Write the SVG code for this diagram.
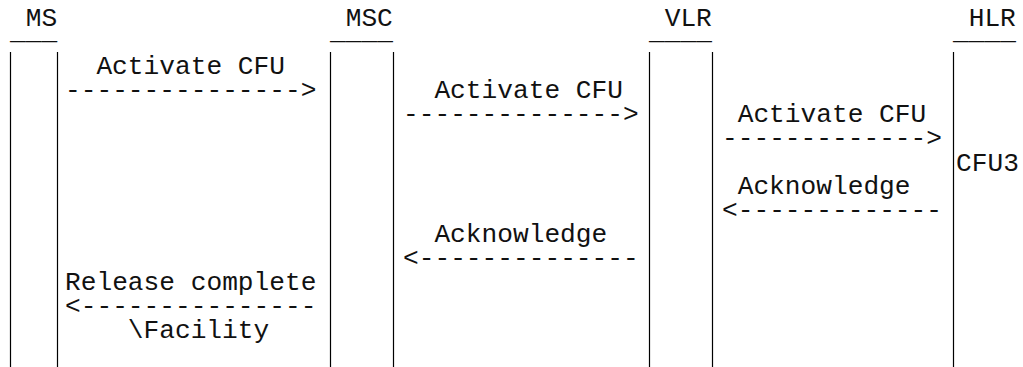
<svg xmlns="http://www.w3.org/2000/svg" width="1023" height="367" viewBox="0 0 1023 367">
<style>
text { font-family: "Liberation Mono", "DejaVu Sans Mono", monospace; font-size: 26.2px; fill: #111; }
.life { stroke: #000; stroke-width: 1.2; fill: none; }
</style>
<rect width="1023" height="367" fill="#fff"/>
<g id="node-ms">
  <text x="25.7" y="26">MS</text>
  <text x="10" y="39">___</text>
  <line class="life" x1="10.5" y1="52" x2="10.5" y2="367"/>
  <line class="life" x1="57.5" y1="52" x2="57.5" y2="367"/>
</g>
<g id="node-msc">
  <text x="345.7" y="26">MSC</text>
  <text x="330" y="39">____</text>
  <line class="life" x1="330.5" y1="52" x2="330.5" y2="367"/>
  <line class="life" x1="393.5" y1="52" x2="393.5" y2="367"/>
</g>
<g id="node-vlr">
  <text x="664.7" y="26">VLR</text>
  <text x="649" y="39">____</text>
  <line class="life" x1="649.5" y1="52" x2="649.5" y2="367"/>
  <line class="life" x1="712.5" y1="52" x2="712.5" y2="367"/>
</g>
<g id="node-hlr">
  <text x="968.7" y="26">HLR</text>
  <text x="953" y="39">____</text>
  <line class="life" x1="953.5" y1="52" x2="953.5" y2="367"/>
  <text x="956" y="171">CFU3</text>
</g>
<g id="connectors">
  <text x="96.4" y="74">Activate CFU</text>
  <text x="65" y="98">---------------&gt;</text>
  <text x="434.4" y="98">Activate CFU</text>
  <text x="403" y="122">--------------&gt;</text>
  <text x="737.7" y="122">Activate CFU</text>
  <text x="722" y="146">-------------&gt;</text>
  <text x="737.7" y="194">Acknowledge</text>
  <text x="722" y="218">&lt;-------------</text>
  <text x="434.4" y="242">Acknowledge</text>
  <text x="403" y="266">&lt;--------------</text>
  <text x="65" y="290">Release complete</text>
  <text x="65" y="314">&lt;---------------</text>
  <text x="127.8" y="338">\Facility</text>
</g>
</svg>
